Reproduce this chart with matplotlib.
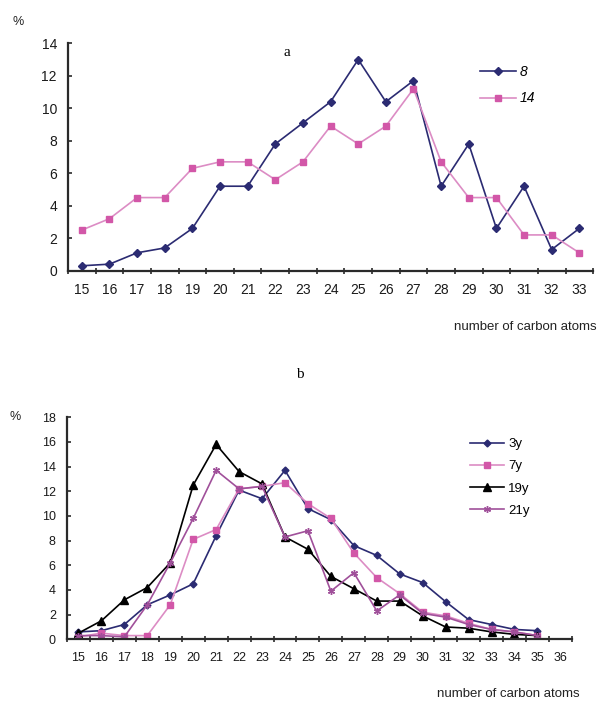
import numpy as np
import matplotlib
matplotlib.use('Agg')
import matplotlib.pyplot as plt

plt.rcParams['font.family'] = ['Liberation Sans', 'DejaVu Sans']

# panel a
carbons_a = list(range(15, 34))
series_8 = [0.3, 0.4, 1.1, 1.4, 2.6, 5.2, 5.2, 7.8, 9.1, 10.4, 13.0, 10.4, 11.7,
            5.2, 7.8, 2.6, 5.2, 1.3, 2.6]
series_14 = [2.5, 3.2, 4.5, 4.5, 6.3, 6.7, 6.7, 5.6, 6.7, 8.9, 7.8, 8.9, 11.2,
             6.7, 4.5, 4.5, 2.2, 2.2, 1.1]

# panel b (axis runs to 36, data stops at 35)
ticks_b = list(range(15, 37))
carbons_b = list(range(15, 36))
series_3y = [0.6, 0.7, 1.2, 2.8, 3.6, 4.5, 8.4, 12.1, 11.4, 13.7, 10.6, 9.7, 7.6,
             6.8, 5.3, 4.6, 3.05, 1.6, 1.2, 0.8, 0.7]
series_7y = [0.2, 0.5, 0.3, 0.3, 2.8, 8.1, 8.9, 12.2, 12.4, 12.7, 11.0, 9.8, 7.0,
             5.0, 3.7, 2.2, 1.9, 1.3, 0.8, 0.6, 0.3]
series_19y = [0.5, 1.5, 3.2, 4.2, 6.2, 12.5, 15.8, 13.6, 12.6, 8.3, 7.3, 5.1, 4.1,
              3.1, 3.1, 1.9, 1.0, 0.9, 0.6, 0.4, 0.3]
series_21y = [0.3, 0.3, 0.2, 2.8, 6.2, 9.8, 13.7, 12.2, 12.4, 8.3, 8.8, 3.9, 5.4,
              2.3, 3.6, 2.1, 1.8, 1.2, 0.8, 0.6, 0.3]

navy = '#2b2b72'
pink = '#d257a8'
pink_line = '#dc8cc4'
purple = '#a0509a'

fig = plt.figure(figsize=(6.05, 7.03), dpi=100)
ax1 = fig.add_axes([0.1124, 0.615, 0.868, 0.3234])
ax2 = fig.add_axes([0.1107, 0.0906, 0.8345, 0.3158])


def style_axis(ax, cats, ymax, ystep, fs):
    for s in ['top', 'right']:
        ax.spines[s].set_visible(False)
    for s in ['left', 'bottom']:
        ax.spines[s].set_linewidth(1.6)
        ax.spines[s].set_color('#2a2a2a')
    ax.set_xlim(cats[0] - 0.5, cats[-1] + 0.5)
    ax.set_ylim(0, ymax)
    ax.set_xticks(cats)
    ax.set_xticks(np.arange(cats[0] - 0.5, cats[-1] + 1.0, 1.0), minor=True)
    ax.set_yticks(np.arange(0, ymax + 0.1, ystep))
    ax.tick_params(axis='x', which='major', length=0, pad=9, labelsize=fs)
    ax.tick_params(axis='x', which='minor', length=4, direction='inout', width=1.2, color='#2a2a2a')
    ax.tick_params(axis='y', length=3, direction='in', width=1.2, labelsize=fs, pad=8, color='#2a2a2a')
    for lab in ax.get_xticklabels() + ax.get_yticklabels():
        lab.set_color('#1a1a1a')


# panel a
ax1.plot(carbons_a, series_8, color=navy, lw=1.2, marker='D', ms=4, mfc=navy, mec=navy, label='8')
ax1.plot(carbons_a, series_14, color=pink_line, lw=1.2, marker='s', ms=5, mfc=pink, mec=pink, label='14')
style_axis(ax1, carbons_a, 14, 2, 10)
leg1 = ax1.legend(loc='upper left', bbox_to_anchor=(0.76, 0.96), frameon=False,
                  handlelength=2.6, labelspacing=0.9, handletextpad=0.3, fontsize=10)
for t in leg1.get_texts():
    t.set_fontstyle('italic')

# panel b
ax2.plot(carbons_b, series_3y, color=navy, lw=1.2, marker='D', ms=3.5, mfc=navy, mec=navy, label='3y')
ax2.plot(carbons_b, series_7y, color=pink_line, lw=1.2, marker='s', ms=4.5, mfc=pink, mec=pink, label='7y')
ax2.plot(carbons_b, series_19y, color='black', lw=1.2, marker='^', ms=6, mfc='black', mec='black', label='19y')
ax2.plot(carbons_b, series_21y, color=purple, lw=1.2, marker=(6, 2, 0), ms=5, mec=purple, label='21y')
style_axis(ax2, ticks_b, 18, 2, 9)
ax2.legend(loc='upper left', bbox_to_anchor=(0.775, 0.96), frameon=False,
           handlelength=2.6, labelspacing=0.75, handletextpad=0.3, fontsize=9.5)

# annotations
fig.text(18 / 605, 1 - 22 / 703, '%', fontsize=9, ha='center', va='center', color='#222222')
fig.text(287 / 605, 1 - 53 / 703, 'a', fontsize=11, ha='center', va='center',
         family=['Liberation Serif', 'DejaVu Serif'])
fig.text(597 / 605, 1 - 327 / 703, 'number of carbon atoms', fontsize=9.5, ha='right', va='center',
         color='#222222')
fig.text(300 / 605, 1 - 374 / 703, 'b', fontsize=11, ha='center', va='center',
         family=['Liberation Serif', 'DejaVu Serif'])
fig.text(15 / 605, 1 - 417 / 703, '%', fontsize=9, ha='center', va='center', color='#222222')
fig.text(580 / 605, 1 - 694 / 703, 'number of carbon atoms', fontsize=9.5, ha='right', va='center',
         color='#222222')

fig.savefig('out.png', dpi=100)
plt.close(fig)
